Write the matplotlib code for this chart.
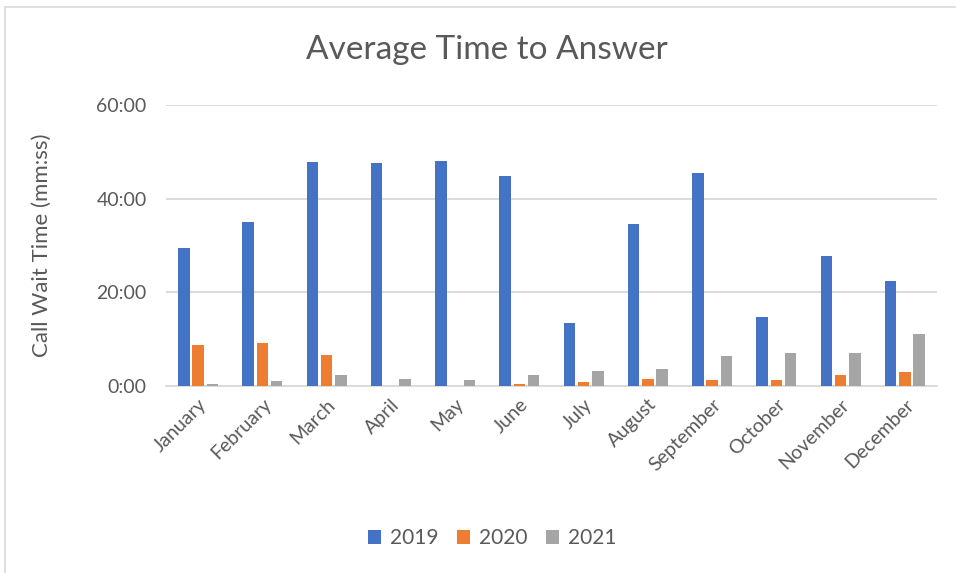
import matplotlib
matplotlib.use("Agg")
import matplotlib.pyplot as plt
import numpy as np
from matplotlib.patches import Rectangle
from matplotlib.ticker import FuncFormatter

months = ["January", "February", "March", "April", "May", "June", "July",
          "August", "September", "October", "November", "December"]
# values in minutes
y2019 = [29.5, 35.0, 47.8, 47.7, 48.0, 44.8, 13.5, 34.6, 45.5, 14.7, 27.8, 22.4]
y2020 = [8.75, 9.25, 6.6, 0.1, 0.1, 0.5, 0.85, 1.6, 1.3, 1.2, 2.35, 3.0]
y2021 = [0.35, 1.1, 2.3, 1.5, 1.3, 2.4, 3.3, 3.65, 6.4, 7.1, 6.95, 11.2]
series_names = ["2019", "2020", "2021"]
colors = ["#4472C4", "#ED7D31", "#A5A5A5"]
yticks = [0, 20, 40, 60]

plt.rcParams['font.family'] = ['Lato', 'DejaVu Sans']
txt = "#595959"

fig = plt.figure(figsize=(9.56, 5.73), dpi=100)
fig.patches.append(Rectangle((5/956, -0.01), 1.0, 1 - 7/573 + 0.01,
                             transform=fig.transFigure, fill=False,
                             edgecolor="#D9D9D9", linewidth=1.2))
ax = fig.add_axes([166/956, 1 - 386/573, (937 - 166)/956, (386 - 105)/573])

x = np.arange(len(months))
w = 0.178
off = 0.222
for i, (vals, name, c) in enumerate(zip([y2019, y2020, y2021], series_names, colors)):
    ax.bar(x + (i - 1) * off, vals, width=w, color=c, label=name, zorder=3)

ax.set_xlim(-0.5, len(months) - 0.5)
ax.set_ylim(0, 60)
ax.set_yticks(yticks)
ax.yaxis.set_major_formatter(FuncFormatter(lambda v, p: f"{int(v)}:00"))
ax.set_xticks(x)
ax.set_xticklabels(months, rotation=45, ha='right', rotation_mode='anchor')
ax.tick_params(axis='both', length=0, colors=txt, labelsize=14)
ax.tick_params(axis='x', pad=7)
ax.tick_params(axis='y', pad=14)
ax.grid(axis='y', color="#D9D9D9", linewidth=1.3, zorder=0)
for s in ["top", "right", "left"]:
    ax.spines[s].set_visible(False)
ax.spines["bottom"].set_color("#D9D9D9")
ax.spines["bottom"].set_linewidth(1.3)

ax.set_ylabel("Call Wait Time (mm:ss)", color=txt, fontsize=16, labelpad=32)
fig.text(487/956, 1 - 50/573, "Average Time to Answer", ha='center', va='center',
         color=txt, fontsize=24)

fig.legend(loc='center', bbox_to_anchor=(492/956, 1 - 538/573), ncol=3,
           frameon=False, fontsize=15, labelcolor=txt, handlelength=0.65,
           handleheight=0.65, handletextpad=0.4, columnspacing=0.9)

fig.savefig("out.png", dpi=100)
